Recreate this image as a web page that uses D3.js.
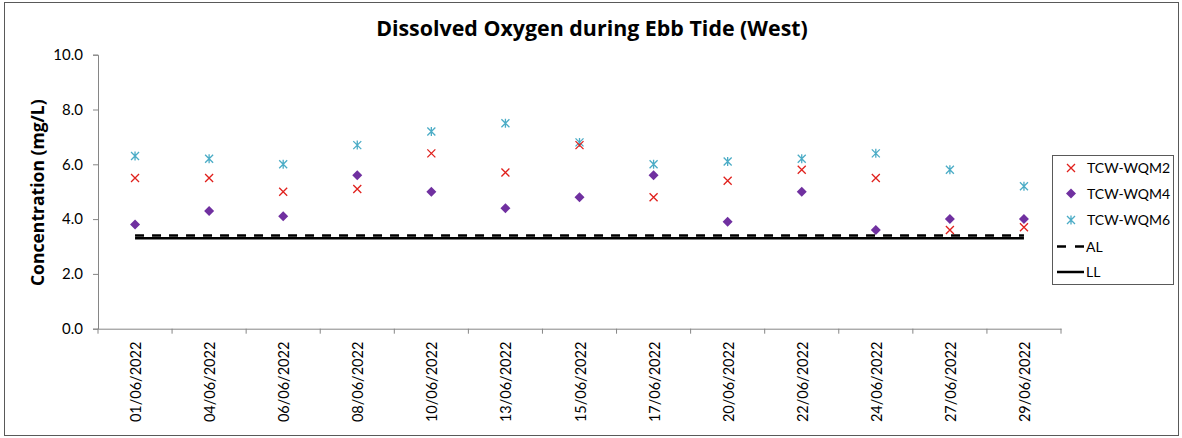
<!DOCTYPE html>
<html><head><meta charset="utf-8">
<script src="https://cdn.jsdelivr.net/npm/d3@7"></script>
<style>body{margin:0;background:#fff}svg{display:block}text{font-family:Lato,"Open Sans",sans-serif;fill:#000}</style>
</head><body><svg id="c" width="1182" height="438"></svg>
<script>
const dates = ["01/06/2022","04/06/2022","06/06/2022","08/06/2022","10/06/2022","13/06/2022","15/06/2022","17/06/2022","20/06/2022","22/06/2022","24/06/2022","27/06/2022","29/06/2022"];
const wqm2 = [5.5,5.5,5.0,5.1,6.4,5.7,6.7,4.8,5.4,5.8,5.5,3.6,3.7];
const wqm4 = [3.8,4.3,4.1,5.6,5.0,4.4,4.8,5.6,3.9,5.0,3.6,4.0,4.0];
const wqm6 = [6.3,6.2,6.0,6.7,7.2,7.5,6.8,6.0,6.1,6.2,6.4,5.8,5.2];
const AL = 3.4, LL = 3.3;
const yTicks = [0,2,4,6,8,10];
const legendLabels = ["TCW-WQM2","TCW-WQM4","TCW-WQM6","AL","LL"];

const svg = d3.select("#c");
const axisCol = "#868686";
const L = 98, R = 1061, T = 54.7, B = 328.7;
const x = d3.scaleBand().domain(dates).range([L, R]).padding(0);
const y = d3.scaleLinear().domain([0, 10]).range([B, T]);
const cx = d => x(d) + x.bandwidth() / 2;

function fit(sel, target){
  const base = parseFloat(sel.style("font-size"));
  const w = sel.node().getComputedTextLength();
  if (w > 0) sel.style("font-size", (base * target / w) + "px");
}

// outer border
svg.append("rect").attr("x",4.5).attr("y",2.5).attr("width",1174).attr("height",433)
  .attr("fill","none").attr("stroke","#595959").attr("stroke-width",1);

// title
const title = svg.append("text").attr("x",592).attr("y",36).attr("text-anchor","middle")
  .style("font-family","'Open Sans'").style("font-weight","bold").style("font-size","18px")
  .text("Dissolved Oxygen during Ebb Tide (West)");
fit(title, 432);

// y axis
const ya = svg.append("g").attr("transform",`translate(${L},0)`)
  .call(d3.axisLeft(y).tickValues(yTicks).tickFormat(d3.format(".1f")).tickSize(5).tickPadding(10));
ya.select(".domain").attr("stroke",axisCol);
ya.selectAll(".tick line").attr("stroke",axisCol);
ya.selectAll(".tick text").style("font-size","15px").style("font-family","Lato").attr("fill","#000");

const ylab = svg.append("text").attr("transform",`translate(44,${(T+B)/2 + 1}) rotate(-90)`).attr("text-anchor","middle")
  .style("font-family","'Open Sans'").style("font-weight","bold").style("font-size","15px").text("Concentration (mg/L)");
fit(ylab, 187);

// x axis
const xa = svg.append("g").attr("transform",`translate(0,${B})`)
  .call(d3.axisBottom(x).tickSize(0).tickPadding(0));
xa.select(".domain").attr("stroke",axisCol);
xa.selectAll(".tick text").style("font-size","14.5px").style("font-family","Lato")
  .attr("text-anchor","end").attr("transform","translate(6,13) rotate(-90)").attr("dy","0").attr("y",0).attr("x",0);
const bounds = dates.map(d => x(d)).concat([R]);
svg.append("g").selectAll("line").data(bounds).join("line")
  .attr("x1",d=>d).attr("x2",d=>d).attr("y1",B).attr("y2",B+5).attr("stroke",axisCol);

// AL / LL lines
const xs = d3.extent(dates.map(cx));
svg.append("line").attr("x1",xs[0]).attr("x2",xs[1]).attr("y1",y(LL)).attr("y2",y(LL))
  .attr("stroke","#000").attr("stroke-width",2.5);
svg.append("line").attr("x1",xs[0]).attr("x2",xs[1]).attr("y1",y(AL)).attr("y2",y(AL))
  .attr("stroke","#000").attr("stroke-width",2.5).attr("stroke-dasharray","9,8");

// markers
function xMark(g, px, py, s, col){
  g.append("path").attr("d",`M${px-s},${py-s}L${px+s},${py+s}M${px-s},${py+s}L${px+s},${py-s}`)
   .attr("stroke",col).attr("stroke-width",1.3).attr("fill","none");
}
function star(g, px, py, s, col){
  g.append("path").attr("d",`M${px-s},${py-s}L${px+s},${py+s}M${px-s},${py+s}L${px+s},${py-s}M${px},${py-s-0.5}L${px},${py+s+0.5}`)
   .attr("stroke",col).attr("stroke-width",1.3).attr("fill","none");
}
function diamond(g, px, py, s, col){
  g.append("path").attr("d",`M${px},${py-s}L${px+s},${py}L${px},${py+s}L${px-s},${py}Z`).attr("fill",col);
}
const red = "#e0201c", purple = "#7030a0", cyan = "#4bacc6";
const gm = svg.append("g");
dates.forEach((d,i) => {
  diamond(gm, cx(d), y(wqm4[i]), 5, purple);
  star(gm, cx(d), y(wqm6[i]), 4, cyan);
  xMark(gm, cx(d), y(wqm2[i]), 4, red);
});

// legend
svg.append("rect").attr("x",1052.5).attr("y",155.5).attr("width",121).attr("height",129)
  .attr("fill","#fff").attr("stroke","#595959");
const ly = [168,193.5,220,246.5,272];
const lg = svg.append("g");
xMark(lg, 1071, ly[0], 4, red);
diamond(lg, 1071, ly[1], 5, purple);
star(lg, 1071, ly[2], 4, cyan);
lg.append("line").attr("x1",1057).attr("x2",1084).attr("y1",ly[3]).attr("y2",ly[3]).attr("stroke","#000").attr("stroke-width",2.5).attr("stroke-dasharray","9,9");
lg.append("line").attr("x1",1057).attr("x2",1084).attr("y1",ly[4]).attr("y2",ly[4]).attr("stroke","#000").attr("stroke-width",2.5);
legendLabels.forEach((t,i) => {
  lg.append("text").attr("x", i < 3 ? 1087 : 1086).attr("y", ly[i]).attr("dy","0.36em")
    .style("font-size","14px").text(t);
});
</script></body></html>
